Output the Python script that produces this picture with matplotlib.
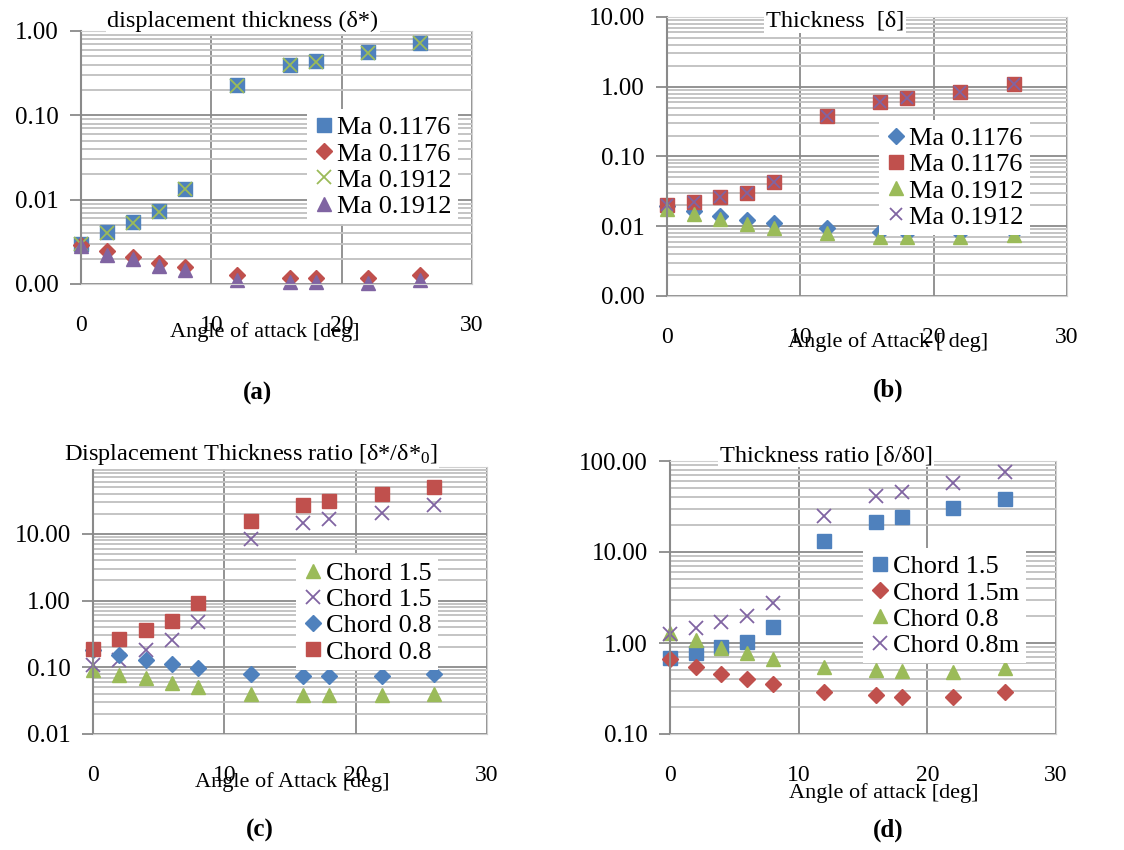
import matplotlib
matplotlib.use("Agg")
import matplotlib.pyplot as plt
from matplotlib.ticker import FixedLocator, FormatStrFormatter, LogLocator, NullFormatter

plt.rcParams['font.family'] = ['Liberation Serif', 'DejaVu Serif']
plt.rcParams['mathtext.fontset'] = 'custom'
plt.rcParams['mathtext.rm'] = 'Liberation Serif'
plt.rcParams['mathtext.it'] = 'Liberation Serif:italic'

BLUE = '#4F81BD'
RED = '#C0504D'
GREEN = '#9BBB59'
PURPLE = '#8064A2'

aoa = [0, 2, 4, 6, 8, 12, 16, 18, 22, 26]

# (a) displacement thickness
a_sq_1176 = [0.0030, 0.0041, 0.0055, 0.0073, 0.0134, 0.229, 0.40, 0.44, 0.56, 0.73]
a_di_1176 = [0.0029, 0.00248, 0.00207, 0.00176, 0.0016, 0.00128, 0.00119, 0.00119, 0.00119, 0.00128]
a_x_1912 = [0.0030, 0.0040, 0.0053, 0.0072, 0.0132, 0.225, 0.39, 0.43, 0.55, 0.72]
a_tr_1912 = [0.0028, 0.0022, 0.00196, 0.00163, 0.00147, 0.00111, 0.00106, 0.00106, 0.00104, 0.00112]

# (b) thickness
b_di_1176 = [0.0195, 0.0167, 0.0141, 0.0123, 0.0113, 0.0094, 0.0082, 0.0080, 0.0079, 0.0082]
b_sq_1176 = [0.0202, 0.0225, 0.0266, 0.030, 0.0437, 0.383, 0.614, 0.70, 0.853, 1.10]
b_tr_1912 = [0.0175, 0.015, 0.0126, 0.0108, 0.0095, 0.0079, 0.0071, 0.0071, 0.0070, 0.0075]
b_x_1912 = [0.0200, 0.0220, 0.0260, 0.0295, 0.043, 0.375, 0.60, 0.69, 0.84, 1.08]

# (c) displacement thickness ratio
c_tr_15 = [0.092, 0.076, 0.068, 0.058, 0.051, 0.040, 0.038, 0.038, 0.038, 0.040]
c_x_15 = [0.107, 0.13, 0.184, 0.26, 0.47, 8.3, 14.4, 16.6, 20.8, 26.8]
c_di_08 = [0.184, 0.155, 0.127, 0.11, 0.099, 0.080, 0.074, 0.074, 0.074, 0.080]
c_sq_08 = [0.19, 0.268, 0.366, 0.50, 0.92, 15.6, 26.8, 31.0, 39.0, 50.0]

# (d) thickness ratio
d_sq_15 = [0.68, 0.77, 0.91, 1.03, 1.51, 13.3, 21.2, 24.0, 30.2, 38.0]
d_di_15m = [0.66, 0.55, 0.46, 0.40, 0.35, 0.29, 0.266, 0.257, 0.257, 0.287]
d_tr_08 = [1.28, 1.08, 0.89, 0.77, 0.67, 0.55, 0.50, 0.49, 0.48, 0.53]
d_x_08m = [1.25, 1.45, 1.71, 1.98, 2.77, 25.0, 41.0, 46.0, 58.0, 75.0]

W, H = 1124, 850
fig = plt.figure(figsize=(W / 100, H / 100), dpi=100)


def make_ax(l, t, r, b):
    return fig.add_axes([l / W, 1 - b / H, (r - l) / W, (b - t) / H])


def style(ax, ylo, yhi, yticks):
    ax.set_yscale('log')
    ax.set_xlim(0, 30)
    ax.set_ylim(ylo, yhi)
    ax.yaxis.set_major_locator(FixedLocator(yticks))
    ax.yaxis.set_major_formatter(FormatStrFormatter('%.2f'))
    ax.yaxis.set_minor_locator(LogLocator(base=10, subs=range(2, 10)))
    ax.yaxis.set_minor_formatter(NullFormatter())
    ax.set_xticks([0, 10, 20, 30])
    ax.set_xticklabels(['0', '10', '20', '30'])
    ax.tick_params(axis='x', length=0, pad=22, labelsize=17)
    ax.tick_params(axis='y', which='major', length=8, color='#808080', width=1.2, pad=8, labelsize=18)
    ax.tick_params(axis='y', which='minor', length=0)
    ax.grid(True, which='major', axis='y', color='#8a8a8a', lw=1.3)
    ax.grid(True, which='minor', axis='y', color='#c4c4c4', lw=1.4)
    ax.grid(True, which='major', axis='x', color='#8a8a8a', lw=1.3)
    for s in ['top', 'right', 'bottom']:
        ax.spines[s].set_color('#d0d0d0')
    ax.spines['left'].set_color('#8a8a8a')
    ax.spines['left'].set_linewidth(1.5)
    ax.set_axisbelow(True)


def series(ax, ys, marker, color, label, size=10.5):
    if marker == 'x':
        ax.plot(aoa, ys, ls='none', marker='x', ms=size, mew=1.3, color=color, label=label, clip_on=False)
    else:
        ax.plot(aoa, ys, ls='none', marker=marker, ms=size, mec=color, mfc=color, label=label, clip_on=False)


def legend(ax, x, y):
    lg = ax.legend(loc='upper left', bbox_to_anchor=(x, y), fontsize=19, frameon=True,
                   fancybox=False, framealpha=1, edgecolor='none', handlelength=0.8,
                   handletextpad=0.1, labelspacing=0.1, borderpad=0.25, borderaxespad=0)
    lg.set_zorder(5)


def title(ax, txt, x, y):
    ax.text(x, y, txt, transform=ax.transAxes, ha='center', va='center', fontsize=17.5,
            bbox=dict(fc='white', ec='none', pad=1), zorder=6, clip_on=False)


# (a)
ax = make_ax(81, 31, 472, 284)
style(ax, 0.001, 1, [0.001, 0.01, 0.1, 1])
series(ax, a_sq_1176, 's', BLUE, 'Ma 0.1176')
series(ax, a_di_1176, 'D', RED, 'Ma 0.1176', 8.5)
series(ax, a_x_1912, 'x', GREEN, 'Ma 0.1912')
series(ax, a_tr_1912, '^', PURPLE, 'Ma 0.1912')
legend(ax, 0.578, 0.69)
title(ax, 'displacement thickness (δ*)', 0.414, 1.036)
ax.set_xlabel('Angle of attack [deg]', fontsize=16)
ax.xaxis.set_label_coords(0.47, -0.15)

# (b)
ax = make_ax(667, 17, 1067, 296)
style(ax, 0.001, 10, [0.001, 0.01, 0.1, 1, 10])
series(ax, b_di_1176, 'D', BLUE, 'Ma 0.1176', 8.5)
series(ax, b_sq_1176, 's', RED, 'Ma 0.1176')
series(ax, b_tr_1912, '^', GREEN, 'Ma 0.1912')
series(ax, b_x_1912, 'x', PURPLE, 'Ma 0.1912', 8.5)
legend(ax, 0.53, 0.63)
title(ax, 'Thickness  [δ]', 0.42, 0.985)
ax.set_xlabel('Angle of Attack [ deg]', fontsize=16)
ax.xaxis.set_label_coords(0.553, -0.13)

# (c)
ax = make_ax(93, 467, 487, 734)
style(ax, 0.01, 100, [0.01, 0.1, 1, 10])
series(ax, c_tr_15, '^', GREEN, 'Chord 1.5')
series(ax, c_x_15, 'x', PURPLE, 'Chord 1.5')
series(ax, c_di_08, 'D', BLUE, 'Chord 0.8', 8.5)
series(ax, c_sq_08, 's', RED, 'Chord 0.8')
legend(ax, 0.515, 0.67)
title(ax, 'Displacement Thickness ratio [δ*/δ*$_{0}$]', 0.40, 1.045)
ax.set_xlabel('Angle of Attack [deg]', fontsize=16)
ax.xaxis.set_label_coords(0.505, -0.143)

# (d)
ax = make_ax(670, 461, 1056, 734)
style(ax, 0.1, 100, [0.1, 1, 10, 100])
series(ax, d_sq_15, 's', BLUE, 'Chord 1.5')
series(ax, d_di_15m, 'D', RED, 'Chord 1.5m', 8.5)
series(ax, d_tr_08, '^', GREEN, 'Chord 0.8')
series(ax, d_x_08m, 'x', PURPLE, 'Chord 0.8m')
legend(ax, 0.5, 0.68)
title(ax, 'Thickness ratio [δ/δ0]', 0.404, 1.02)
ax.set_xlabel('Angle of attack [deg]', fontsize=16)
ax.xaxis.set_label_coords(0.554, -0.18)

for lab, x, y in [('(a)', 257, 393), ('(b)', 888, 390), ('(c)', 260, 830), ('(d)', 888, 830)]:
    fig.text(x / W, 1 - y / H, lab, ha='center', va='center', fontsize=18, fontweight='bold')

fig.savefig('out.png', dpi=100)
